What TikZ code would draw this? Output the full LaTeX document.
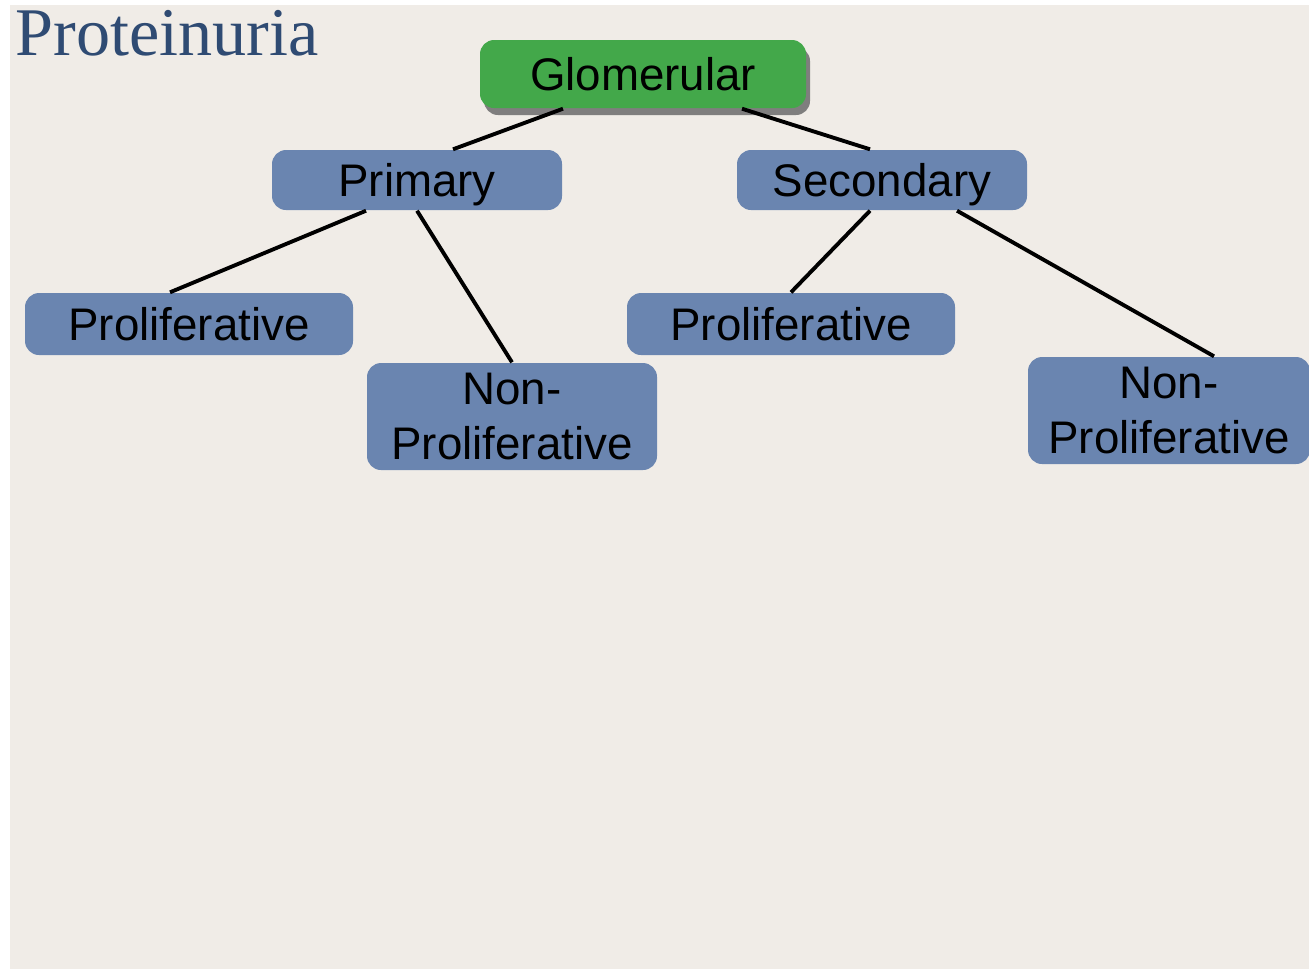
\documentclass[tikz,border=0pt]{standalone}
\usepackage{fontspec}
\usepackage{tikz}
\usepackage{xcolor}
\usetikzlibrary{shadows}
\newfontfamily\boxfont{Liberation Sans}
\newfontfamily\titlefont{Liberation Serif}
\definecolor{paper}{HTML}{F0ECE7}
\definecolor{boxblue}{HTML}{6A85B0}
\definecolor{boxgreen}{HTML}{43A84A}
\definecolor{titleblue}{HTML}{2F4B73}
\tikzset{
    blue-box/.style = {fill=boxblue, rectangle, rounded corners=4pt, inner sep=2pt, align=center, font=\boxfont\fontsize{13}{15.6}\selectfont},
    green-box/.style = {blue-box, fill=boxgreen, drop shadow={shadow xshift=0.04cm, shadow yshift=-0.07cm, fill=black!55, opacity=0.9}},
    link/.style = {draw=black, line width=1.1pt},
}

\begin{document}
\begin{tikzpicture}
\useasboundingbox (0,0) rectangle (13.09,-9.72);
\fill[white] (0,0) rectangle (13.09,-9.72);
\fill[paper] (0.10,-0.05) rectangle (13.09,-9.69);
\node[anchor=base west, text=titleblue, font=\titlefont\fontsize{19.4}{23}\selectfont, inner sep=0pt] (title) at (0.15,-0.55) {Proteinuria};
% tree
\node[green-box, minimum width=3.26cm, minimum height=0.68cm] (glom) at (6.43,-0.74) {Glomerular};
\node[blue-box, minimum width=2.90cm, minimum height=0.60cm, text depth=0pt] (prim) at (4.17,-1.80) {Primary};
\node[blue-box, minimum width=2.90cm, minimum height=0.60cm, text depth=0pt] (sec) at (8.82,-1.80) {Secondary};
\node[blue-box, minimum width=3.28cm, minimum height=0.62cm] (prolA) at (1.89,-3.24) {Proliferative};
\node[blue-box, minimum width=2.90cm, minimum height=1.07cm] (nonA) at (5.12,-4.165) {Non-\\Proliferative};
\node[blue-box, minimum width=3.28cm, minimum height=0.62cm] (prolB) at (7.91,-3.24) {Proliferative};
\node[blue-box, minimum width=2.82cm, minimum height=1.07cm] (nonB) at (11.69,-4.105) {Non-\\Proliferative};
\draw[link] ([xshift=-0.80cm]glom.south) -- ([xshift=0.36cm]prim.north);
\draw[link] ([xshift=0.99cm]glom.south) -- ([xshift=-0.12cm]sec.north);
\draw[link] ([xshift=-0.51cm]prim.south) -- ([xshift=-0.19cm]prolA.north);
\draw[link] (prim.south) -- (nonA.north);
\draw[link] ([xshift=-0.12cm]sec.south) -- (prolB.north);
\draw[link] ([xshift=0.75cm]sec.south) -- ([xshift=0.45cm]nonB.north);
\end{tikzpicture}
\end{document}
